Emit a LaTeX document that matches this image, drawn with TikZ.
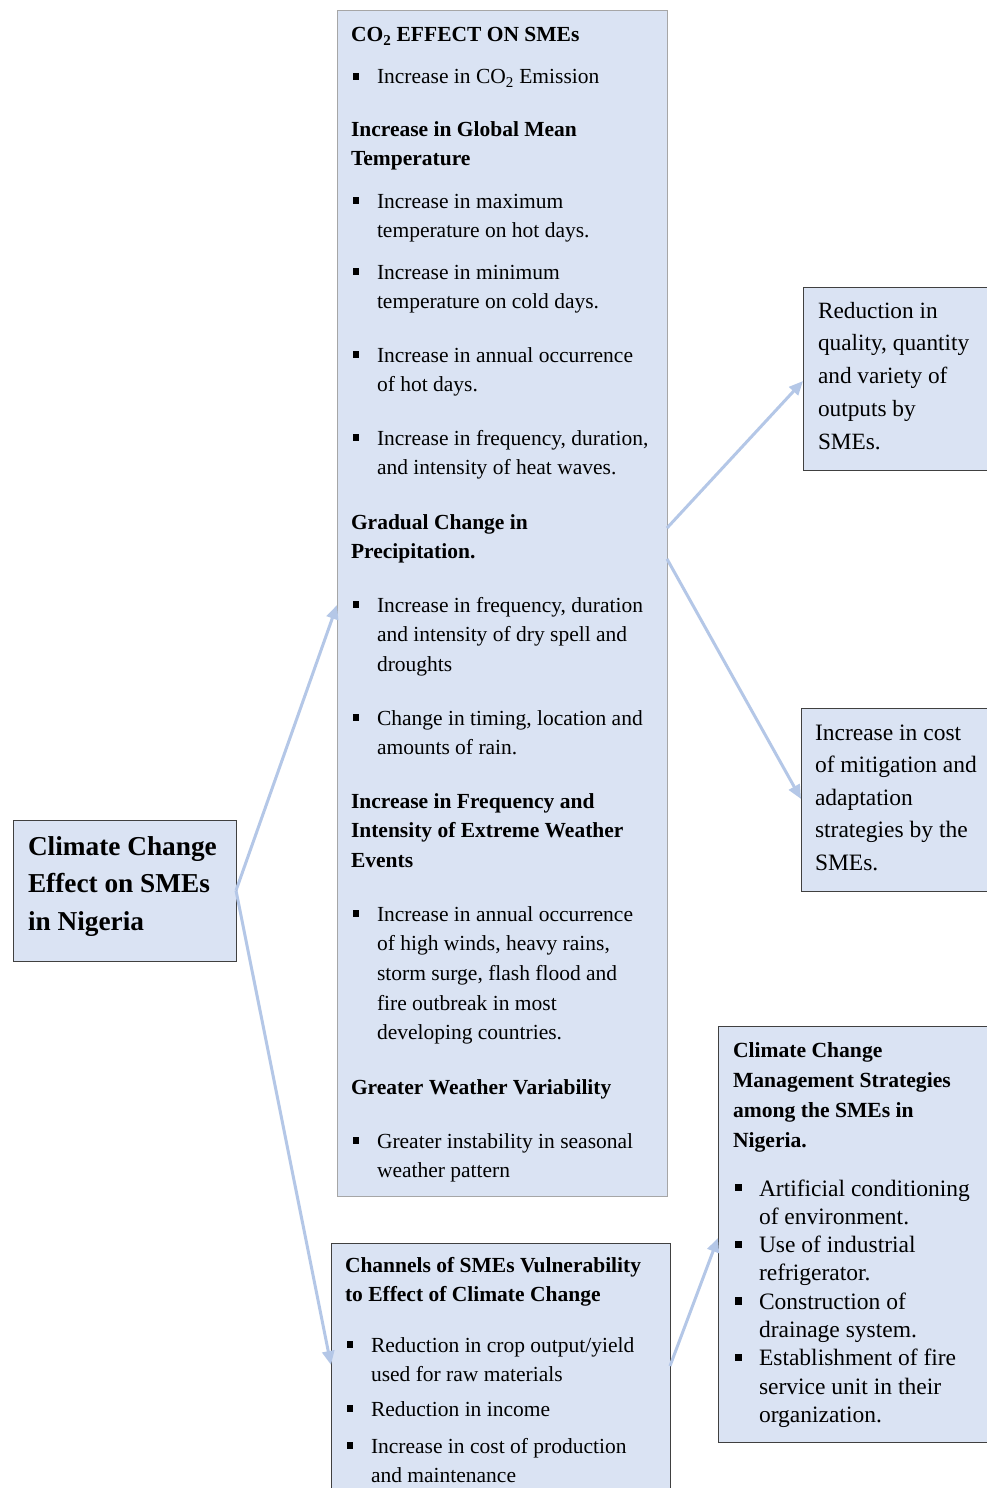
\documentclass[tikz,border=0pt]{standalone}
\usepackage{fontspec}
\setmainfont{Liberation Serif}
\usetikzlibrary{arrows.meta,calc}
\definecolor{boxfill}{HTML}{DAE3F3}
\definecolor{arrowc}{HTML}{B4C7E7}
\definecolor{darkb}{HTML}{404040}
\definecolor{grayb}{HTML}{A6A6A6}
\newcommand{\sqb}{\raisebox{0.2em}{\rule{0.3em}{0.3em}}}
\newcommand{\blt}[1]{\makebox[24pt][l]{\sqb}#1}
\newcommand{\hind}{\hspace*{24pt}}
\newcommand{\mlines}[1]{\begin{tabular}[t]{@{}l@{}}#1\end{tabular}}
\begin{document}
\begin{tikzpicture}[x=1pt,y=-1pt,
  box/.style={draw=darkb, fill=boxfill, line width=1pt, anchor=north west, inner sep=0pt, outer sep=0pt, rectangle},
  cbox/.style={box, draw=grayb},
  txt/.style={anchor=base west, inner sep=0pt, outer sep=0pt},
  ctext/.style={txt, font=\fontsize{21.5}{29.7}\selectfont},
  chead/.style={txt, font=\fontsize{21.5}{29.7}\selectfont\bfseries},
  conn/.style={draw=arrowc, line width=3pt, -{Triangle[length=14pt,width=12pt]}}
]
\fill[white] (0,0) rectangle (986,1488);
\useasboundingbox (0,0) rectangle (986,1488);

% boxes
\node[box, minimum width=223pt, minimum height=141pt] (L) at (13,820) {};
\node[cbox, minimum width=330pt, minimum height=1185pt] (C) at (337,11) {};
\node[box, minimum width=200pt, minimum height=183pt] (R1) at (803,287) {};
\node[box, minimum width=200pt, minimum height=183pt] (R2) at (801,708) {};
\node[box, minimum width=339pt, minimum height=260pt] (B) at (331,1243) {};
\node[box, minimum width=290pt, minimum height=416pt] (M) at (718,1026) {};

% left box text
\node[txt, font=\fontsize{27.3}{37.5}\selectfont\bfseries] (Lt) at (28,855)
  {\mlines{Climate Change\\Effect on SMEs\\in Nigeria}};

% central box text
\node[chead] (c1) at (351,42) {CO\textsubscript{2} EFFECT ON SMEs};
\node[ctext] (c2) at (353,84) {\blt{Increase in CO\textsubscript{2} Emission}};
\node[chead] (c3) at (351,136) {\mlines{Increase in Global Mean\\Temperature}};
\node[ctext] (c4) at (353,208) {\mlines{\blt{Increase in maximum}\\\hind temperature on hot days.}};
\node[ctext] (c5) at (353,279) {\mlines{\blt{Increase in minimum}\\\hind temperature on cold days.}};
\node[ctext] (c6) at (353,362) {\mlines{\blt{Increase in annual occurrence}\\\hind of hot days.}};
\node[ctext] (c7) at (353,445) {\mlines{\blt{Increase in frequency, duration,}\\\hind and intensity of heat waves.}};
\node[chead] (c8) at (351,529) {\mlines{Gradual Change in\\Precipitation.}};
\node[ctext] (c9) at (353,612) {\mlines{\blt{Increase in frequency, duration}\\\hind and intensity of dry spell and\\\hind droughts}};
\node[ctext] (c10) at (353,725) {\mlines{\blt{Change in timing, location and}\\\hind amounts of rain.}};
\node[chead] (c11) at (351,808) {\mlines{Increase in Frequency and\\Intensity of Extreme Weather\\Events}};
\node[ctext] (c12) at (353,921) {\mlines{\blt{Increase in annual occurrence}\\\hind of high winds, heavy rains,\\\hind storm surge, flash flood and\\\hind fire outbreak in most\\\hind developing countries.}};
\node[chead] (c13) at (351,1094) {Greater Weather Variability};
\node[ctext] (c14) at (353,1148) {\mlines{\blt{Greater instability in seasonal}\\\hind weather pattern}};

% right boxes text
\node[txt, font=\fontsize{23.3}{32.8}\selectfont] (R1t) at (818,318)
  {\mlines{Reduction in\\quality, quantity\\and variety of\\outputs by\\SMEs.}};
\node[txt, font=\fontsize{23.5}{32.5}\selectfont] (R2t) at (815,740)
  {\mlines{Increase in cost\\of mitigation and\\adaptation\\strategies by the\\SMEs.}};

% bottom box text
\node[chead] (b1) at (345,1272) {\mlines{Channels of SMEs Vulnerability\\to Effect of Climate Change}};
\node[ctext] (b2) at (347,1352) {\mlines{\blt{Reduction in crop output/yield}\\\hind used for raw materials}};
\node[ctext] (b3) at (347,1416) {\blt{Reduction in income}};
\node[ctext] (b4) at (347,1453) {\mlines{\blt{Increase in cost of production}\\\hind and maintenance}};

% bottom-right box text
\node[txt, font=\fontsize{21.6}{30}\selectfont\bfseries] (m1) at (733,1057)
  {\mlines{Climate Change\\Management Strategies\\among the SMEs in\\Nigeria.}};
\node[txt, font=\fontsize{23.5}{28.3}\selectfont] (m2) at (735,1196)
  {\mlines{\blt{Artificial conditioning}\\\hind of environment.\\\blt{Use of industrial}\\\hind refrigerator.\\\blt{Construction of}\\\hind drainage system.\\\blt{Establishment of fire}\\\hind service unit in their\\\hind organization.}};

% connectors
\draw[conn] (L.east) -- ($(C.north west)!0.5013!(C.south west)$);
\draw[conn] (L.east) -- ($(B.north west)!0.469!(B.south west)$);
\draw[conn] ($(C.north east)!0.4363!(C.south east)$) -- ($(R1.north west)!0.5137!(R1.south west)$);
\draw[conn] ($(C.north east)!0.4624!(C.south east)$) -- ($(R2.north west)!0.497!(R2.south west)$);
\draw[conn] ($(B.north east)!0.473!(B.south east)$) -- ($(M.north west)!0.5096!(M.south west)$);
\end{tikzpicture}
\end{document}
